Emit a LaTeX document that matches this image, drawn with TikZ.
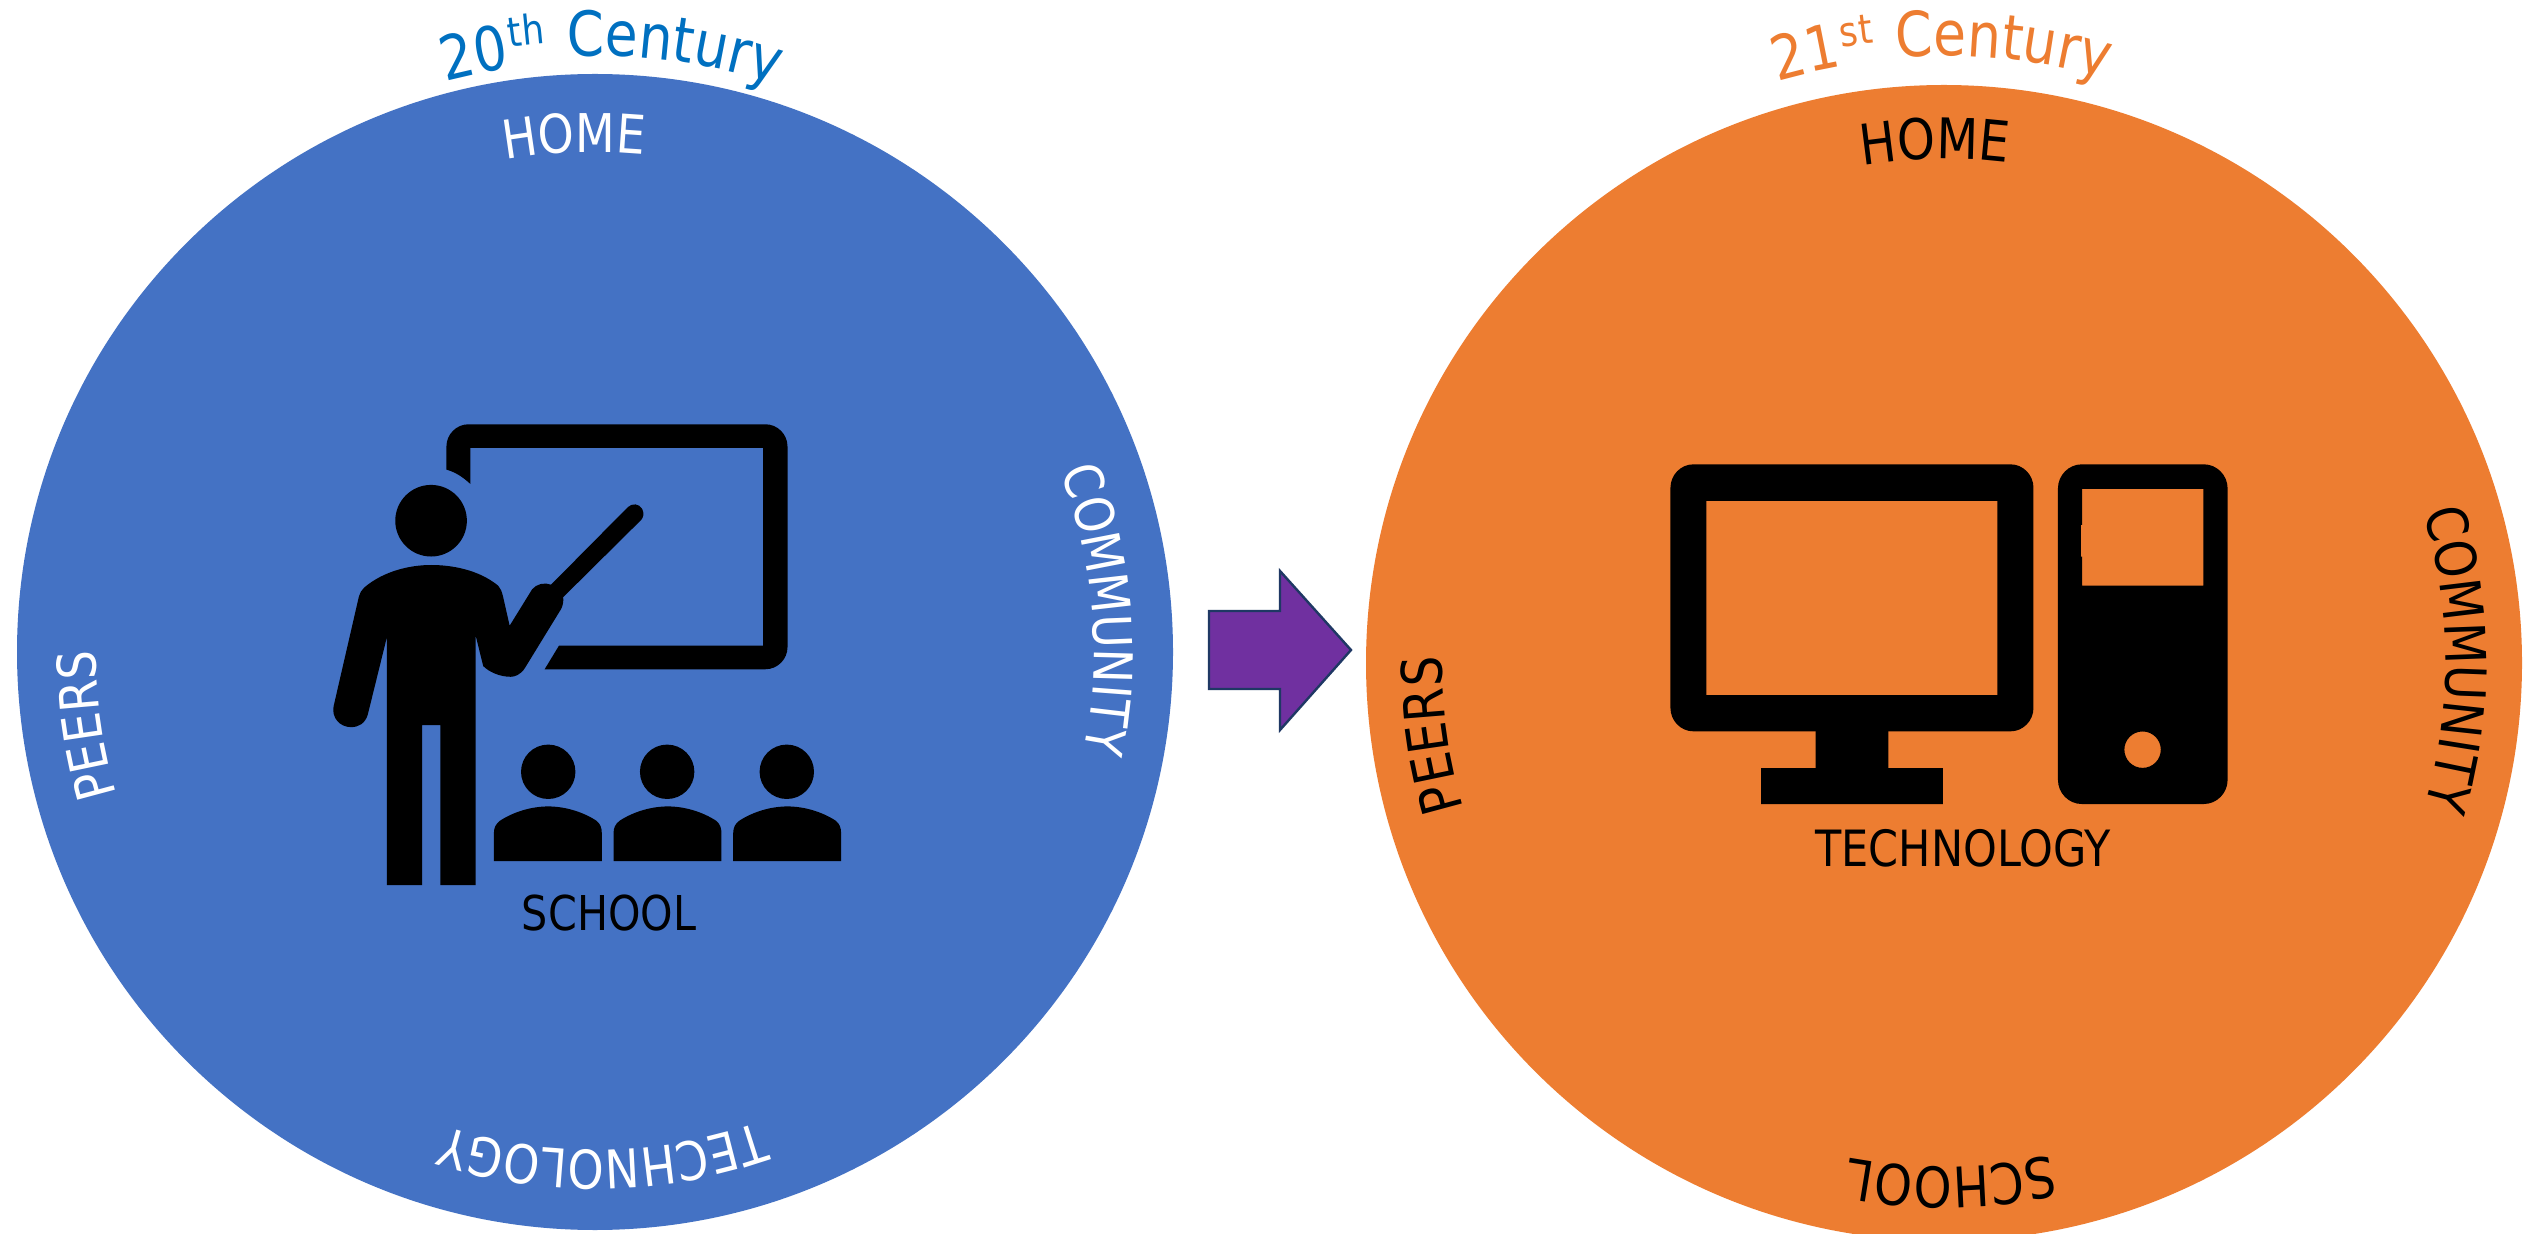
\documentclass[tikz,border=0pt]{standalone}
\usepackage{fontspec}
\usetikzlibrary{decorations.text}
\setmainfont{DejaVu Sans}
\newfontfamily\ringfont[FakeStretch=0.86]{DejaVu Sans}
\definecolor{blueDisc}{HTML}{4472C4}
\definecolor{orangeDisc}{HTML}{ED7D31}
\definecolor{blueTitle}{HTML}{0070C0}
\definecolor{arrowFill}{HTML}{7030A0}
\definecolor{arrowLine}{HTML}{1F3864}
% #1 cx, #2 cy, #3 baseline radius (px), #4 centre angle, #5 font size (pt), #6 colour, #7 text
\newcommand{\ringtext}[7]{%
  \path[shift={(#1,#2)},x=0.5pt,y=0.5pt,decorate,decoration={text along path,text align=center,
      text color=#6,text={|\ringfont\fontsize{#5}{#5}\selectfont|#7}}]
    (#4+35:#3) arc[start angle=#4+35,end angle=#4-35,radius={#3*0.5pt}];}
\tikzset{
  disc/.style={fill=#1,draw=none},
  icon/.style={fill=black,draw=none,even odd rule},
  teacherscale/.style={shift={(300,400)},x=0.178571pt,y=-0.178571pt},
  pcscale/.style={shift={(1640,440)},x=0.197706pt,y=-0.166667pt},
  midlabel/.style={anchor=base,inner sep=0,outer sep=0,text=black,font=\ringfont\fontsize{#1}{#1}\selectfont},
  bigarrow/.style={fill=arrowFill,draw=arrowLine,line width=1.2pt,miter limit=10}
}
\begin{document}
\begin{tikzpicture}[x=0.5pt,y=-0.5pt]
\useasboundingbox (0,0) rectangle (2526,1234);
\fill[white] (0,0) rectangle (2526,1234);
% discs
\fill[disc=blueDisc] (595,652) circle[radius=289pt];
\fill[disc=orangeDisc] (1944,663) circle[radius=289pt];
% arrow
\draw[bigarrow] (1209,611) -- (1280,611) -- (1280,571) -- (1351,650) -- (1280,730) -- (1280,689) -- (1209,689) -- cycle;
% titles
\ringtext{595}{652}{590}{101.45}{30.5}{blueTitle}{20}
\ringtext{595}{652}{611}{96.35}{20.5}{blueTitle}{th}
\ringtext{595}{652}{596}{82.5}{31}{blueTitle}{Century}
\ringtext{1944}{663}{605}{102.85}{30.5}{orangeDisc}{21}
\ringtext{1944}{663}{624}{97.95}{20.5}{orangeDisc}{st}
\ringtext{1944}{663}{607}{84.5}{31}{orangeDisc}{Century}
% blue ring
\ringtext{595}{652}{500}{92.35}{26.7}{white}{HOME}
\ringtext{595}{652}{499}{4.8}{26.7}{white}{COMMUNITY}
\ringtext{595}{652}{498}{270.9}{26.7}{white}{TECHNOLOGY}
\ringtext{595}{652}{499}{188.2}{26.7}{white}{PEERS}
% orange ring
\ringtext{1944}{663}{504}{91}{28}{black}{HOME}
\ringtext{1944}{663}{502}{0.4}{28}{black}{COMMUNITY}
\ringtext{1944}{663}{504}{270.8}{28}{black}{SCHOOL}
\ringtext{1944}{663}{502}{188}{28}{black}{PEERS}
% teacher icon
\begin{scope}[teacherscale]
  \fill[icon] (410,195) -- (410,130) .. controls (410,96) and (438,68) .. (472,68)
    -- (1303,68) .. controls (1337,68) and (1365,96) .. (1365,130)
    -- (1365,692) .. controls (1365,726) and (1337,754) .. (1303,754)
    -- (685,754) -- (725,688) -- (1297,688) -- (1297,134) -- (477,134) -- (477,235)
    .. controls (455,215) and (435,202) .. (410,195) -- cycle;
  \fill[icon] (367,338) circle[radius=17.9pt];
  \fill[icon] (367,462) .. controls (425,462) and (500,475) .. (555,520)
    .. controls (562,528) and (566,538) .. (568,548) -- (587,632) -- (650,530)
    .. controls (662,515) and (685,510) .. (703,517) -- (918,300)
    .. controls (930,288) and (950,290) .. (958,305) .. controls (964,318) and (962,328) .. (955,336)
    -- (737,552) .. controls (738,565) and (736,577) .. (730,587) -- (630,750)
    .. controls (618,770) and (600,775) .. (590,775) .. controls (560,775) and (530,762) .. (513,745)
    -- (492,660) -- (492,1358) -- (393,1358) -- (393,910) -- (342,910) -- (342,1358) -- (243,1358)
    -- (243,665) -- (190,880) .. controls (183,905) and (165,916) .. (143,916)
    .. controls (112,916) and (88,890) .. (94,858) -- (165,550)
    .. controls (168,540) and (172,532) .. (180,525) .. controls (235,478) and (310,462) .. (367,462) -- cycle;
  \foreach \hx in {695,1028,1363}{
    \fill[icon] (\hx,1041) circle[radius=13.6pt];
  }
  \foreach \dx in {0,335,670}{
    \fill[icon] (543+\dx,1291) -- (543+\dx,1212) .. controls (543+\dx,1198) and (548+\dx,1187) .. (560+\dx,1178)
      .. controls (600+\dx,1152) and (650+\dx,1138) .. (695+\dx,1138)
      .. controls (740+\dx,1138) and (790+\dx,1152) .. (830+\dx,1178)
      .. controls (841+\dx,1187) and (845+\dx,1198) .. (845+\dx,1212) -- (845+\dx,1291) -- cycle;
  }
\end{scope}
% computer icon
\begin{scope}[pcscale]
  \fill[icon] (77,143) .. controls (77,105) and (103,73) .. (135,73) -- (937,73)
    .. controls (969,73) and (995,105) .. (995,143) -- (995,804)
    .. controls (995,842) and (969,874) .. (937,874) -- (135,874)
    .. controls (103,874) and (77,842) .. (77,804) -- cycle
    (168,183) rectangle (904,765);
  \fill[icon] (444,870) -- (628,870) -- (628,984) -- (766,984) -- (766,1092) -- (306,1092) -- (306,984) -- (444,984) -- cycle;
  \fill[icon] (1057,145) .. controls (1057,106) and (1084,73) .. (1117,73) -- (1426,73)
    .. controls (1459,73) and (1486,106) .. (1486,145) -- (1486,1020)
    .. controls (1486,1059) and (1459,1092) .. (1426,1092) -- (1117,1092)
    .. controls (1084,1092) and (1057,1059) .. (1057,1020) -- cycle
    (1118,147) -- (1425,147) -- (1425,437) -- (1118,437) -- (1118,350) -- (1115,350) -- (1115,255) -- (1118,255) -- cycle
    (1271,929) circle[x radius=9.1pt,y radius=9.1pt];
\end{scope}
% centre labels
\node[midlabel=24] (schoolLabel) at (609,930) {SCHOOL};
\node[midlabel=25] (techLabel) at (1963,866) {TECHNOLOGY};
\end{tikzpicture}
\end{document}
